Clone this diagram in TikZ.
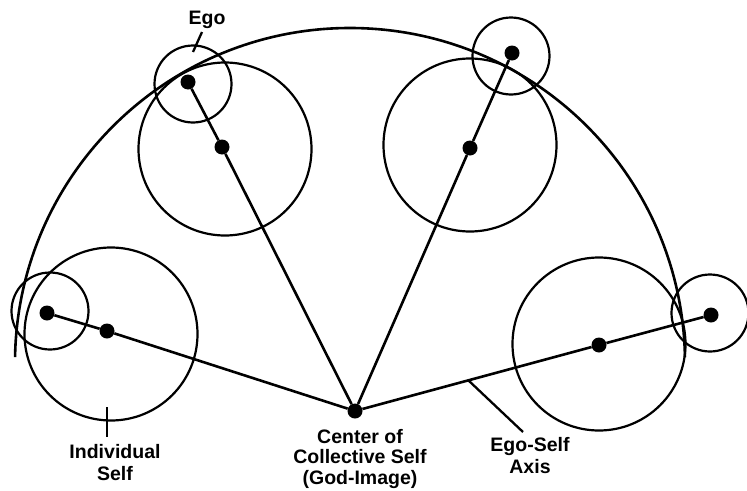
\documentclass[tikz,border=0pt]{standalone}
\usepackage{fontspec}
\setmainfont{Liberation Sans}
\begin{document}
\begin{tikzpicture}[x=1pt,y=-1pt,
  dot/.style={circle,fill=black,inner sep=0pt,minimum size=15pt},
  selfcirc/.style={circle,draw,line width=2.2pt,inner sep=0pt,minimum size=173pt},
  egocirc/.style={circle,draw,line width=2.2pt,inner sep=0pt,minimum size=77pt},
  axisline/.style={line width=2.6pt},
  leader/.style={line width=2.3pt},
  lbl/.style={font=\fontsize{19.5}{20.5}\selectfont\bfseries,align=center,anchor=north,inner sep=0pt}]
\useasboundingbox (0,0) rectangle (747,490);
% outer arc
\coordinate (O) at (350,363);
\draw[axisline] ([shift={(179:335pt)}]O) arc[start angle=179,end angle=1,radius=335pt];
% circles
\node[selfcirc] (LS) at (111,334) {};
\node[egocirc]  (LE) at (50,311) {};
\node[selfcirc] (TLS) at (225,149) {};
\node[egocirc]  (TLE) at (193,84) {};
\node[selfcirc] (TRS) at (470,145) {};
\node[egocirc]  (TRE) at (511,56) {};
\node[selfcirc] (RS) at (599,344) {};
\node[egocirc]  (RE) at (710,313) {};
% dots
\node[dot] (C) at (355,411) {};
\node[dot] (ls) at (107,331) {};
\node[dot] (le) at (47,313) {};
\node[dot] (tls) at (222,147) {};
\node[dot] (tle) at (188,82) {};
\node[dot] (trs) at (470,148) {};
\node[dot] (tre) at (512,53) {};
\node[dot] (rs) at (599,345) {};
\node[dot] (re) at (711,315) {};
% axes
\draw[axisline] (C) -- (ls) -- (le);
\draw[axisline] (C) -- (tls) -- (tle);
\draw[axisline] (C) -- (trs) -- (tre);
\draw[axisline] (C) -- (rs) -- (re);
% labels
\node[lbl] (egolbl) at (207,11) {Ego};
\node[lbl] (indlbl) at (115,444) {Individual\\[2pt]Self};
\node[lbl] (cenlbl) at (360,429) {Center of\\Collective Self\\(God-Image)};
\node[lbl] (axlbl) at (530,437) {Ego-Self\\[2pt]Axis};
% leaders
\coordinate (egoA) at (202,32);
\coordinate (egoB) at (193,52);
\draw[leader] (egoA) -- (egoB);
\coordinate (indA) at (107,407);
\coordinate (indB) at (107,437);
\draw[leader] (indA) -- (indB);
\coordinate (axA) at (468,380);
\coordinate (axB) at (523,432);
\draw[leader] (axA) -- (axB);
\end{tikzpicture}
\end{document}
